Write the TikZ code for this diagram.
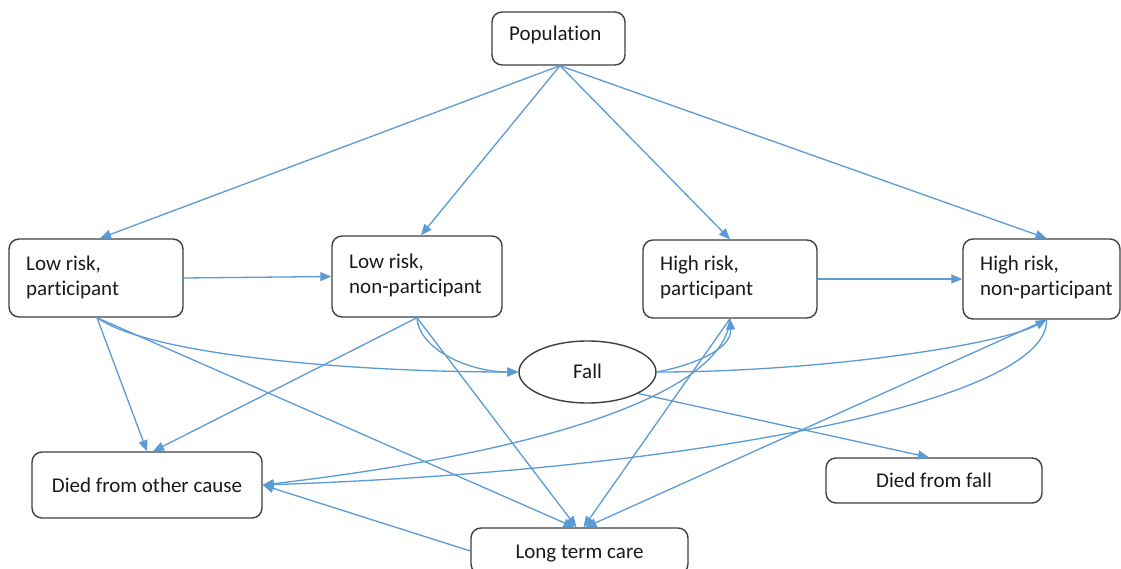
\documentclass[tikz,border=0pt]{standalone}
\usepackage{fontspec}
\setmainfont{Carlito}[Ligatures=NoCommon]
\usetikzlibrary{arrows.meta,shapes.geometric}
\definecolor{edgeblue}{HTML}{5B9BD5}
\definecolor{boxgray}{HTML}{404040}
\definecolor{txtcol}{HTML}{1A1A1A}
\newcommand{\lowtext}[2]{\raisebox{-#1}[0pt][0pt]{#2}}
\begin{document}
\begin{tikzpicture}[x=1pt,y=-1pt,
  box/.style={draw=boxgray, line width=1.4pt, rounded corners=10pt, inner sep=0pt,
    font=\fontsize{21}{25}\selectfont, text=txtcol},
  txt/.style={inner sep=0pt, align=left, anchor=west, font=\fontsize{21}{25}\selectfont, text=txtcol},
  conn/.style={draw=edgeblue, line width=1.3pt, -{Triangle[length=11pt,width=9pt]}}
]
\clip (0,0) rectangle (1121,569);
\fill[white] (0,0) rectangle (1121,569);

\node[box, minimum width=133pt, minimum height=53pt] (pop) at (558.5,38.5) {};
\node[box, minimum width=174pt, minimum height=78pt] (lrp) at (96,278) {};
\node[box, minimum width=170pt, minimum height=81pt] (lrnp) at (417,276.5) {};
\node[box, minimum width=174pt, minimum height=78pt] (hrp) at (730,279) {};
\node[box, minimum width=157pt, minimum height=80pt] (hrnp) at (1041.5,279) {};
\node[box, minimum width=230pt, minimum height=66pt] (dother) at (147,485) {\lowtext{7pt}{Died from other cause}};
\node[box, minimum width=216pt, minimum height=45pt] (dfall) at (934,480.5) {\lowtext{7pt}{Died from fall}};
\node[box, minimum width=217pt, minimum height=46pt] (ltc) at (579.5,551) {\lowtext{7pt}{Long term care}};
\node[draw=boxgray, line width=1.4pt, ellipse, minimum width=137pt, minimum height=62pt, inner sep=0pt,
  font=\fontsize{21}{25}\selectfont, text=txtcol] (fall) at (587.5,372) {\lowtext{6pt}{Fall}};

\node[txt] (popt) at (509,35) {Population};
\node[txt] (lrpt) at (26,277) {Low risk,\\participant};
\node[txt] (lrnpt) at (349,275) {Low risk,\\non-participant};
\node[txt] (hrpt) at (660,277) {High risk,\\participant};
\node[txt] (hrnpt) at (980,277) {High risk,\\non-participant};

% population
\draw[conn] ([xshift=1.5pt]pop.south) -- ([xshift=4pt]lrp.north);
\draw[conn] ([xshift=1.5pt]pop.south) -- ([xshift=4pt]lrnp.north);
\draw[conn] ([xshift=1.5pt]pop.south) -- (hrp.north);
\draw[conn] ([xshift=1.5pt]pop.south) -- ([xshift=5pt]hrnp.north);

% horizontal
\draw[conn] (lrp.east) -- (lrnp.west);
\draw[conn] (hrp.east) -- (hrnp.west);

% low risk participant
\draw[conn] ([xshift=1pt]lrp.south) -- (dother.north);
\draw[conn] ([xshift=1pt]lrp.south) -- ([xshift=-5pt]ltc.north);
\draw[conn] ([xshift=1pt]lrp.south) .. controls (150,355) and (350,372) .. (fall.west);

% low risk non-participant
\draw[conn] (lrnp.south) -- ([xshift=6pt]dother.north);
\draw[conn] (lrnp.south) -- ([xshift=-3pt]ltc.north);
\draw[conn] (lrnp.south) .. controls (419,350) and (470,372) .. (fall.west);

% fall
\draw[conn] (fall.east) .. controls (690,366) and (732,350) .. (hrp.south);
\draw[conn] (fall.east) .. controls (820,372) and (1000,345) .. ([xshift=5pt]hrnp.south);
\draw[conn] (fall.-23) -- ([xshift=-5pt]dfall.north);

% high risk
\draw[conn] (hrp.south) -- ([xshift=4pt]ltc.north);
\draw[conn] (hrp.south) .. controls (725,390) and (560,450) .. (dother.east);
\draw[conn] ([xshift=5pt]hrnp.south) -- ([xshift=6pt]ltc.north);
\draw[conn] ([xshift=5pt]hrnp.south) .. controls (1050,400) and (700,470) .. (dother.east);

% long term care
\draw[conn] (ltc.west) -- (dother.east);
\end{tikzpicture}
\end{document}
